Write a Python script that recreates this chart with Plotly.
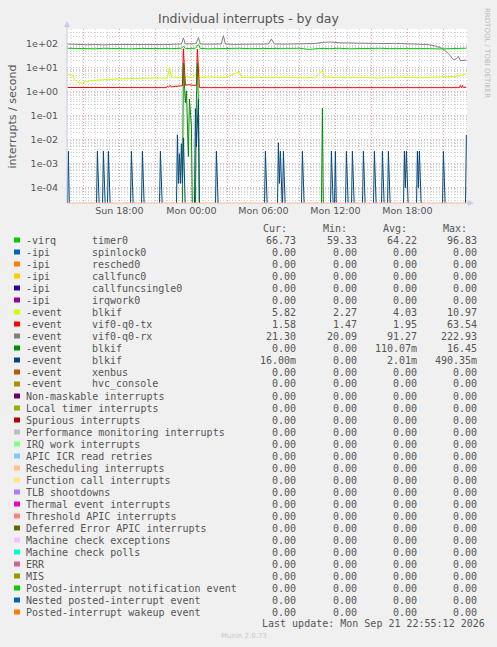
import plotly.graph_objects as go
from datetime import datetime, timedelta

# ------------------------------------------------------------------ data
DAY = "2026-09-"          # sample times below are "DD HH:MM"
FIRST_SAMPLE = "20 13:40"
LAST_SAMPLE = "21 22:55"

# -virq timer0
timer0_t = ["20 13:40", "20 14:30", "20 15:10", "20 16:00", "20 16:40", "20 17:30", "20 18:10",
            "20 19:00", "20 19:50", "20 20:40", "20 21:30", "20 22:20", "20 23:10", "20 23:20",
            "20 23:30", "21 00:20", "21 00:35", "21 00:45", "21 01:30", "21 02:20", "21 03:10",
            "21 04:00", "21 04:50", "21 05:40", "21 06:30", "21 07:20", "21 08:10", "21 09:00",
            "21 09:50", "21 10:40", "21 11:30", "21 12:20", "21 13:10", "21 14:00", "21 14:50",
            "21 15:40", "21 16:30", "21 17:20", "21 18:10", "21 19:00", "21 19:50", "21 20:40",
            "21 21:30", "21 22:20", "21 22:55"]
timer0_v = [66, 64, 65, 63, 66, 64, 65, 63, 65, 64, 66, 64, 66, 80, 64, 66, 96.83, 65, 63, 65, 64,
            66, 64, 65, 63, 65, 64, 66, 59.33, 65, 64, 66, 63, 65, 64, 66, 64, 65, 63, 65, 64, 62,
            65, 64, 66.73]

# -event blkif (light green)
blkif_a_t = ["20 13:40", "20 14:05", "20 14:20", "20 14:35", "20 14:50", "20 15:10", "20 15:45",
             "20 16:25", "20 17:15", "20 18:05", "20 18:55", "20 19:45", "20 20:35", "20 21:25",
             "20 22:00", "20 22:10", "20 22:20", "20 23:05", "20 23:35", "21 00:05", "21 00:30",
             "21 00:40", "21 01:35", "21 02:50", "21 04:00", "21 04:10", "21 05:20", "21 06:35",
             "21 07:50", "21 09:05", "21 10:20", "21 10:55", "21 11:05", "21 12:25", "21 14:05",
             "21 15:45", "21 17:25", "21 19:05", "21 20:45", "21 22:00", "21 22:35", "21 22:55"]
blkif_a_v = [5.2, 5.0, 3.0, 2.5, 2.27, 2.7, 3.0, 3.2, 3.4, 3.5, 3.6, 3.7, 3.6, 3.8, 3.7, 10.97, 4.0,
             3.9, 4.3, 3.8, 6.5, 4.0, 4.2, 4.0, 7.0, 4.0, 4.1, 3.9, 4.1, 3.8, 4.0, 8.0, 4.2, 3.9,
             4.0, 3.8, 4.1, 3.9, 4.2, 4.4, 5.0, 5.82]

# -event vif0-q0-tx
vif_tx_t = ["20 13:40", "20 15:00", "20 17:00", "20 19:00", "20 21:00", "20 21:55", "20 22:00",
            "20 22:05", "20 22:15", "20 22:20", "20 22:40", "20 23:00", "20 23:15", "20 23:20",
            "20 23:25", "20 23:30", "20 23:50", "21 00:10", "21 00:25", "21 00:30", "21 00:35",
            "21 00:40", "21 03:00", "21 08:00", "21 13:00", "21 18:00", "21 22:20", "21 22:25",
            "21 22:30", "21 22:35", "21 22:40", "21 22:55"]
vif_tx_v = [1.52, 1.50, 1.52, 1.50, 1.51, 1.50, 1.75, 1.60, 1.85, 1.60, 1.70, 1.75, 1.80, 63.54,
            8.0, 1.90, 2.0, 1.85, 1.90, 60.0, 10.0, 1.50, 1.50, 1.48, 1.50, 1.47, 1.50, 1.85,
            1.50, 1.85, 1.50, 1.58]

# -event vif0-q0-rx
vif_rx_t = ["20 13:40", "20 14:10", "20 14:40", "20 15:20", "20 16:00", "20 16:40", "20 17:30",
            "20 18:20", "20 19:10", "20 20:00", "20 20:50", "20 21:40", "20 22:30", "20 23:10",
            "20 23:20", "20 23:30", "21 00:15", "21 00:25", "21 00:35", "21 00:45", "21 01:30",
            "21 02:30", "21 02:40", "21 02:50", "21 03:30", "21 04:30", "21 05:30", "21 06:25",
            "21 06:40", "21 06:55", "21 07:40", "21 08:30", "21 09:30", "21 10:20", "21 11:00",
            "21 11:40", "21 12:20", "21 13:00", "21 14:00", "21 15:00", "21 16:00", "21 17:00",
            "21 18:00", "21 19:00", "21 19:40", "21 20:20", "21 20:55", "21 21:25", "21 21:50",
            "21 22:05", "21 22:15", "21 22:25", "21 22:55"]
vif_rx_v = [100, 96, 95, 93, 95, 92, 95, 94, 96, 93, 95, 94, 97, 100, 180, 100, 102, 110, 185, 100,
            98, 100, 222.93, 100, 96, 98, 97, 100, 160, 100, 98, 100, 97, 105, 118, 120, 112, 110,
            106, 108, 104, 106, 102, 100, 95, 82, 65, 40, 22, 24, 30, 20.09, 21.30]

# -event blkif (dark green): non-zero 5-minute samples, all others are 0
blkif_b_t = ["20 23:20", "20 23:25", "20 23:30", "20 23:35", "20 23:40", "20 23:45", "20 23:50",
             "20 23:55", "21 00:00", "21 00:25", "21 00:30", "21 00:35", "21 10:55"]
blkif_b_v = [16.0, 2.0, 0.35, 1.1, 0.05, 0.002, 0.5, 0.15, 0.04, 0.5, 16.45, 0.3, 0.21]

# -event blkif (dark blue): non-zero 5-minute samples, all others are 0
blkif_c_t = ["20 13:45", "20 16:10", "20 16:40", "20 17:05", "20 19:00", "20 19:55", "20 21:25",
             "20 22:50", "20 22:55", "20 23:00", "20 23:05", "20 23:10", "20 23:15", "20 23:20",
             "21 00:20", "21 00:25", "21 00:30", "21 00:35", "21 02:05", "21 06:10", "21 07:15",
             "21 07:20", "21 07:25", "21 07:40", "21 09:15", "21 11:40", "21 12:00", "21 12:55",
             "21 13:25", "21 14:20", "21 15:15", "21 15:55", "21 16:25", "21 17:45", "21 17:50",
             "21 17:55", "21 18:50", "21 18:55", "21 19:00", "21 21:00", "21 22:55"]
blkif_c_v = [0.00333, 0.00333, 0.00333, 0.00333, 0.00333, 0.00333, 0.00333,
             0.016, 0.00015, 0.0026, 0.00015, 0.0068, 0.00015, 0.012,
             0.2, 0.005, 0.05, 0.49035, 0.00333, 0.00333, 0.0075,
             0.00015, 0.00333, 0.00333, 0.00333, 0.00333, 0.00333, 0.00333,
             0.00333, 0.00333, 0.00333, 0.00333, 0.00333, 0.00333, 0.0001,
             0.00333, 0.00333, 0.0001, 0.00333, 0.00333, 0.016]

legend_prefix = ["-virq", "-ipi", "-ipi", "-ipi", "-ipi", "-ipi", "-event", "-event", "-event",
                 "-event", "-event", "-event", "-event"] + [""] * 19
legend_name = ["timer0", "spinlock0", "resched0", "callfunc0", "callfuncsingle0", "irqwork0",
               "blkif", "vif0-q0-tx", "vif0-q0-rx", "blkif", "blkif", "xenbus", "hvc_console",
               "Non-maskable interrupts", "Local timer interrupts", "Spurious interrupts",
               "Performance monitoring interrupts", "IRQ work interrupts", "APIC ICR read retries",
               "Rescheduling interrupts", "Function call interrupts", "TLB shootdowns",
               "Thermal event interrupts", "Threshold APIC interrupts",
               "Deferred Error APIC interrupts", "Machine check exceptions", "Machine check polls",
               "ERR", "MIS", "Posted-interrupt notification event", "Nested posted-interrupt event",
               "Posted-interrupt wakeup event"]
series_colors = ["#00CC00", "#0066B3", "#FF8000", "#FFCC00", "#330099", "#990099", "#CCFF00",
                 "#FF0000", "#808080", "#008F00", "#00487D", "#B35A00", "#B38F00", "#6B006B",
                 "#8FB300", "#B30000", "#BEBEBE", "#80FF80", "#80C9FF", "#FFC080", "#FFE680",
                 "#AA80FF", "#EE00CC", "#FF8080", "#666600", "#FFBFFF", "#00FFCC", "#CC6699",
                 "#999900", "#00CC00", "#0066B3", "#FF8000"]
Z = "0.00"
stat_cur = ["66.73", Z, Z, Z, Z, Z, "5.82", "1.58", "21.30", Z, "16.00m"] + [Z] * 21
stat_min = ["59.33", Z, Z, Z, Z, Z, "2.27", "1.47", "20.09", Z, Z] + [Z] * 21
stat_avg = ["64.22", Z, Z, Z, Z, Z, "4.03", "1.95", "91.27", "110.07m", "2.01m"] + [Z] * 21
stat_max = ["96.83", Z, Z, Z, Z, Z, "10.97", "63.54", "222.93", "16.45", "490.35m"] + [Z] * 21

x_tick_times = ["20 15:00", "20 18:00", "20 21:00", "21 00:00", "21 03:00", "21 06:00",
                "21 09:00", "21 12:00", "21 15:00", "21 18:00", "21 21:00"]
x_tick_text = ["", "Sun 18:00", "", "Mon 00:00", "", "Mon 06:00", "", "Mon 12:00", "",
               "Mon 18:00", ""]
y_tick_vals = [1e-4, 1e-3, 1e-2, 1e-1, 1e0, 1e1, 1e2]
y_tick_text = ["1e-04", "1e-03", "1e-02", "1e-01", "1e+00", "1e+01", "1e+02"]

# ------------------------------------------------------------------ helpers
def T(s):
    return datetime.strptime(DAY + s, "%Y-%m-%d %H:%M")

def sparse_series(times, values):
    """5-minute samples: zero everywhere except the listed samples."""
    lookup = {T(t): v for t, v in zip(times, values)}
    t, out_t, out_v = T(FIRST_SAMPLE), [], []
    while t <= T(LAST_SAMPLE):
        out_t.append(t)
        out_v.append(lookup.get(t, 0.0))
        t += timedelta(minutes=5)
    return out_t, out_v

W, H = 497, 647
PL, PR, PT, PB = 67, 467, 29, 203   # plot area in pixels
FLOOR = 1e-5                        # zero is drawn below the log axis floor

def px(x):
    return (x - PL) / (PR - PL)

def py(y):
    return (PB - y) / (PB - PT)

series = {
    0: ([T(s) for s in timer0_t], timer0_v),
    6: ([T(s) for s in blkif_a_t], blkif_a_v),
    7: ([T(s) for s in vif_tx_t], vif_tx_v),
    8: ([T(s) for s in vif_rx_t], vif_rx_v),
    9: sparse_series(blkif_b_t, blkif_b_v),
    10: sparse_series(blkif_c_t, blkif_c_v),
}

fig = go.Figure()
for i, color in enumerate(series_colors):
    t, v = series.get(i, ([T(FIRST_SAMPLE), T(LAST_SAMPLE)], [0.0, 0.0]))
    fig.add_trace(go.Scatter(
        x=t, y=[val if val > 0 else FLOOR for val in v], mode="lines",
        line=dict(color=color, width=1), hoverinfo="skip", showlegend=False))

TXT = "#555555"
MONO = "DejaVu Sans Mono"
SANS = "DejaVu Sans"
MAJOR = "rgba(230,130,130,0.6)"
MINOR = "rgba(175,175,175,0.55)"

minor_y = [m * 10.0 ** e for e in range(-5, 3) for m in range(2, 10)]

annotations = []
def text(x, y, s, anchor="left", size=10, color=TXT, family=MONO, angle=0):
    annotations.append(dict(
        x=px(x), y=py(y), xref="paper", yref="paper", text=s, showarrow=False,
        xanchor=anchor, yanchor="middle", borderpad=0, textangle=angle,
        font=dict(family=family, size=size, color=color)))

shapes = []
ROW0, ROWH = 240, 12
for i, name in enumerate(legend_name):
    y = ROW0 + ROWH * i
    shapes.append(dict(type="rect", xref="paper", yref="paper",
                       x0=px(14), x1=px(20), y0=py(y + 2.5), y1=py(y - 2.5),
                       line=dict(width=0), fillcolor=series_colors[i]))
    if legend_prefix[i]:
        text(25, y, legend_prefix[i])
        text(91, y, name)
    else:
        text(25, y, name)
    text(297, y, stat_cur[i], "right")
    text(358, y, stat_min[i], "right")
    text(418, y, stat_avg[i], "right")
    text(478, y, stat_max[i], "right")

for x, h in zip([288, 348, 408, 468], ["Cur:", "Min:", "Avg:", "Max:"]):
    text(x, 228, h, "right")
text(261, 623, "Last update: Mon Sep 21 22:55:12 2026")
text(244, 636, "Munin 2.0.73", "center", size=7, color="#C8C8C8", family=SANS)
text(248.5, 18.5, "Individual interrupts - by day", "center", size=12.5, family=SANS)
text(11.5, 116, "interrupts / second", "center", size=11, family=SANS, angle=-90)
text(487, 53, "RRDTOOL / TOBI OETIKER", "center", size=7, color="#BBBBBB", family=SANS, angle=90)

AXIS_Y = "#C8CCEA"
AXIS_X = "#F2B49C"
shapes += [
    dict(type="line", xref="paper", yref="paper", x0=px(67), x1=px(67), y0=py(203), y1=py(24),
         line=dict(color=AXIS_Y, width=1)),
    dict(type="path", xref="paper", yref="paper",
         path=f"M {px(64)} {py(27)} L {px(70)} {py(27)} L {px(67)} {py(21)} Z",
         fillcolor=AXIS_Y, line=dict(width=0)),
    dict(type="line", xref="paper", yref="paper", x0=px(67), x1=px(470), y0=py(203), y1=py(203),
         line=dict(color=AXIS_X, width=1)),
    dict(type="path", xref="paper", yref="paper",
         path=f"M {px(468)} {py(200)} L {px(468)} {py(206)} L {px(474)} {py(203)} Z",
         fillcolor=AXIS_Y, line=dict(width=0)),
]

fig.update_layout(
    template="none",
    width=W, height=H, autosize=False,
    margin=dict(l=PL, r=W - PR, t=PT, b=H - PB, pad=0),
    paper_bgcolor="#F0F0F0", plot_bgcolor="#FFFFFF",
    showlegend=False,
    annotations=annotations,
    shapes=shapes,
    xaxis=dict(
        type="date", range=[T("20 13:38"), T("21 22:58")],
        tickmode="array", tickvals=[T(s) for s in x_tick_times], ticktext=x_tick_text,
        showgrid=True, gridcolor=MAJOR, gridwidth=1, griddash="1px,2px",
        minor=dict(dtick=3600000, tick0=T("20 00:00"), showgrid=True, gridcolor=MINOR,
                   gridwidth=1, griddash="1px,2px", ticks=""),
        showline=False, zeroline=False, ticks="", automargin=False,
        tickfont=dict(family=SANS, size=9.5, color=TXT), fixedrange=True),
    yaxis=dict(
        type="log", range=[-4.64, 2.625],
        tickmode="array", tickvals=y_tick_vals, ticktext=y_tick_text,
        showgrid=True, gridcolor=MAJOR, gridwidth=1, griddash="1px,2px",
        minor=dict(tickmode="array", tickvals=minor_y, showgrid=True, gridcolor=MINOR,
                   gridwidth=1, griddash="1px,2px", ticks=""),
        showline=False, zeroline=False, ticks="", automargin=False, ticklabelstandoff=8,
        tickfont=dict(family=SANS, size=9.5, color=TXT), fixedrange=True),
)

fig.write_html("out.html", config=dict(displayModeBar=False),
               post_script="document.body.style.margin='0px';"
                           "document.body.style.background='#F0F0F0';")
